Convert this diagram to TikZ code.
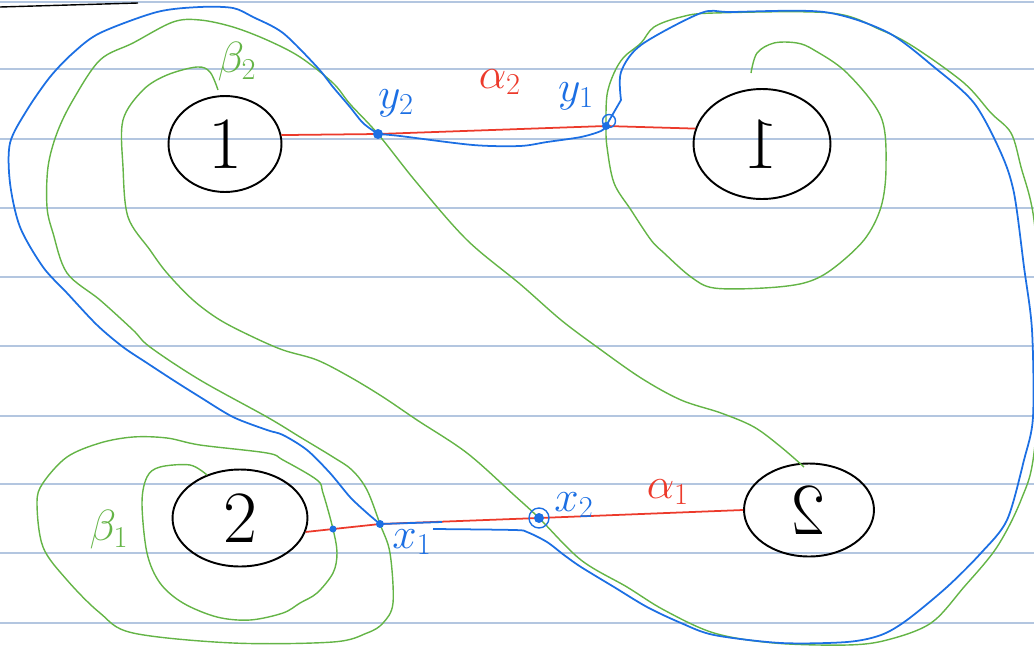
\documentclass[tikz,border=0pt]{standalone}
\usepackage{xcolor}
\usepackage{amsmath, amssymb}
\usepackage{tikz}
\usetikzlibrary{positioning, shapes.geometric}
\definecolor{penblue}{HTML}{1C6FE3}
\definecolor{pengreen}{HTML}{64B446}
\definecolor{penred}{HTML}{EC3A2B}
\definecolor{ruled}{HTML}{B3C6E0}

\begin{document}
\begin{tikzpicture}[x=0.02cm, y=-0.02cm,
    every node/.style={font=\fontsize{27}{29}\selectfont},
    disk/.style={ellipse, draw, line width=1.1pt, inner sep=0pt,
      font=\fontsize{42}{42}\selectfont},
    alph/.style={penred, line width=1pt},
    bet/.style={pengreen, line width=0.8pt},
    curv/.style={penblue, line width=1pt, line join=round}]
  \useasboundingbox (0,0) rectangle (1034,646);
  \clip (0,0) rectangle (1034,646);
  % notebook rules
  \foreach \ry in {2,69,139,208,277,346,416,484,553,623}
    \draw[ruled, line width=0.8pt] (0,\ry) -- (1034,\ry);
  \draw[line width=0.8pt] (0,7) -- (138,3);

  % the four discs
  \node[disk, minimum width=2.26cm, minimum height=1.92cm] (A) at (225,144) {1};
  \node[disk, minimum width=2.74cm, minimum height=2.2cm] (B) at (762,144) {\reflectbox{1}};
  \node[disk, minimum width=2.7cm, minimum height=1.94cm] (C) at (240,518) {2};
  \node[disk, minimum width=2.6cm, minimum height=1.86cm] (D) at (809,510) {\reflectbox{2}};

  % intersection points
  \coordinate (y2) at (378,134);
  \coordinate (y1) at (606,126);
  \coordinate (x1) at (380,524);
  \coordinate (x2) at (539,518);
  \coordinate (xx) at (333,529);

  % alpha curves
  \draw[alph] (A.9) -- (y2) -- (y1) -- (B.167);
  \draw[alph] (C.-12) -- (x1) -- (x2) -- (D.west);

  % beta_2 : from A round to B
  \draw[bet] plot[smooth, tension=0.55] coordinates {(218,90) (210,72) (197,67)
    (167,75) (143,90) (123,120) (123,167) (128,217) (150,250) (167,273) (193,300)
    (220,320) (253,337) (283,350) (317,360) (350,377) (383,397) (417,420) (467,453)
    (514,495) (x2) (581,560) (627,587) (664,610) (714,633) (774,643) (847,645)
    (887,640) (931,623) (964,587) (997,547) (1021,500) (1034,453) (1042,330)
    (1034,220) (1021,167) (1011,133) (991,113) (964,83) (914,47) (881,30) (831,13)
    (714,13) (681,17) (654,27) (641,43) (624,57) (614,73) (607,95) (y1) (607,147)
    (614,183) (631,210) (651,240) (664,253) (691,277) (714,288) (764,288) (804,283)
    (831,270) (864,240) (881,207) (886,167) (881,117) (847,73) (814,50) (797,43)
    (774,43) (757,53) (751,73)};

  % beta_1 : from D round to C
  \draw[bet] plot[smooth, tension=0.55] coordinates {(804,467) (781,447) (754,427)
    (721,413) (681,400) (641,378) (597,347) (561,320) (520,284) (467,240) (417,183)
    (y2) (350,104) (333,83) (300,57) (267,40) (233,27) (200,20) (173,22) (133,43)
    (100,60) (73,100) (57,133) (48,167) (47,207) (53,233) (67,273) (100,300) (133,330)
    (150,347) (200,380) (267,417) (300,437) (333,457) (352,470) (367,490) (x1)
    (390,553) (393,603) (383,623) (367,633) (333,642) (233,643) (133,633) (100,613)
    (67,580) (43,547) (37,503) (43,483) (67,457) (100,443) (133,437) (167,438)
    (200,445) (267,453) (283,460) (317,480) (323,493) (xx) (337,553) (333,573)
    (317,593) (300,603) (283,613) (250,620) (217,617) (183,603) (160,583) (147,553)
    (142,503) (147,477) (160,467) (190,465) (207,475)};

  % the blue curve
  \draw[curv] plot[smooth, tension=0.5] coordinates {(433,529) (514,530) (527,532)
    (547,542) (564,555) (581,567) (614,587) (647,607) (681,623) (714,635) (781,643)
    (847,642) (881,635) (907,620) (947,587) (981,553) (1007,520) (1024,460)
    (1033,417) (1032,330) (1024,267) (1014,193) (1001,153) (974,103) (934,67)
    (887,32) (824,12) (731,12) (701,13) (641,45) (621,72) (621,100)}
    -- (y1) -- plot[smooth, tension=0.5] coordinates {(y1) (601,131) (581,137)
    (547,142) (520,146) (473,145) (400,136) (y2)}
    -- plot[smooth, tension=0.5] coordinates {(y2) (363,123) (350,107) (333,87)
    (317,67) (283,33) (253,17) (233,8) (200,7) (157,12) (100,33) (73,53) (50,77)
    (27,110) (10,143) (10,183) (20,227) (43,267) (67,293) (97,325) (123,347)
    (147,363) (173,380) (200,397) (233,417) (267,430) (283,435) (307,450) (330,473)
    (350,497) (367,513) (x1)} -- (442,522);

  % marks at the crossings
  \fill[penblue] (y2) circle (0.1cm);
  \fill[penblue] (y1) circle (0.08cm);
  \draw[penblue, line width=0.8pt] (609,121) circle (0.13cm);
  \fill[penblue] (x1) circle (0.08cm);
  \fill[penblue] (xx) circle (0.07cm);
  \fill[penblue] (x2) circle (0.1cm);
  \draw[penblue, line width=0.8pt] (x2) circle (0.2cm);

  % labels
  \node[pengreen] (lb2) at (237,62) {$\beta_2$};
  \node[penred] (la2) at (500,82) {$\alpha_2$};
  \node[penblue] (ly2) at (396,103) {$y_2$};
  \node[penblue] (ly1) at (576,96) {$y_1$};
  \node[pengreen] (lb1) at (109,530) {$\beta_1$};
  \node[penblue] (lx1) at (412,542) {$x_1$};
  \node[penblue] (lx2) at (574,505) {$x_2$};
  \node[penred] (la1) at (668,492) {$\alpha_1$};
\end{tikzpicture}
\end{document}
